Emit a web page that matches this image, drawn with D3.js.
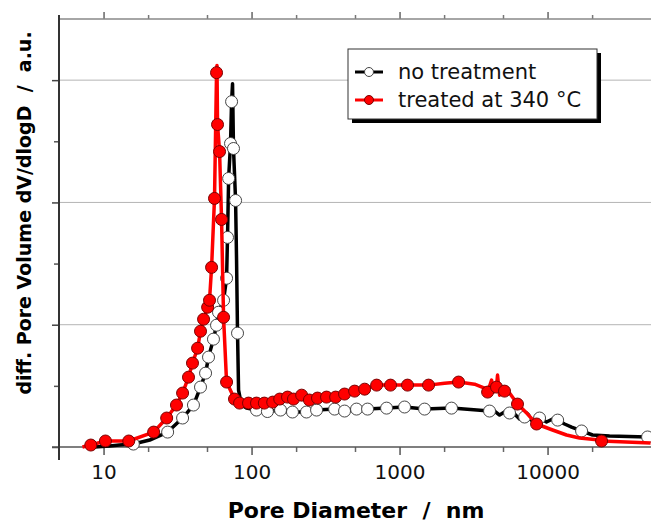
<!DOCTYPE html>
<html>
<head>
<meta charset="utf-8">
<script src="https://cdn.jsdelivr.net/npm/d3@7"></script>
<style>
  body { margin: 0; background: #fff; }
  svg { display: block; font-family: "DejaVu Sans", sans-serif; }
</style>
</head>
<body>
<svg id="chart"></svg>
<script>
// pore diameter (nm), dV/dlogD (a.u.)
// points drawn with a marker
const blackMarkers = [
  [15.9, 0.024], [27.1, 0.122], [34.2, 0.237], [40.5, 0.343], [45.2, 0.49], [48.9, 0.604],
  [51.2, 0.735], [55.3, 0.882], [58.0, 0.996], [59.8, 1.102], [64.7, 1.2], [67.8, 1.38],
  [68.8, 1.714], [70.0, 2.196], [72.1, 2.482], [73.3, 2.824], [75.5, 2.441], [78.0, 2.016],
  [80.4, 0.931], [108, 0.302], [128, 0.29], [157, 0.302], [189, 0.286], [235, 0.286],
  [275, 0.302], [364, 0.31], [425, 0.294], [512, 0.31], [608, 0.31], [817, 0.318],
  [1081, 0.327], [1476, 0.31], [2245, 0.318], [4055, 0.294], [5535, 0.278], [6995, 0.245],
  [8830, 0.237], [11700, 0.22], [16980, 0.131], [47400, 0.082]
];
// line-only points in between
const blackExtra = [
  [8.7, 0], [11.0, 0.008], [12.8, 0.016], [20.5, 0.057], [74.4, 2.971], [79.2, 1.527],
  [81.7, 0.465], [85.5, 0.343], [92.4, 0.318], [4385, 0.294], [4742, 0.261], [5117, 0.286],
  [5984, 0.269], [6471, 0.229], [7211, 0.253], [7925, 0.212], [9840, 0.204], [10810, 0.229],
  [13030, 0.188], [14530, 0.163], [20140, 0.098], [26240, 0.09], [49660, 0.082]
];
const redMarkers = [
  [8.2, 0.016], [10.3, 0.049], [14.8, 0.049], [21.8, 0.122], [26.7, 0.237], [31.1, 0.343],
  [34.2, 0.441], [37.5, 0.571], [39.9, 0.686], [43.2, 0.808], [45.2, 0.947], [47.4, 1.045],
  [50.5, 1.143], [52.0, 1.2], [53.7, 1.469], [56.2, 2.033], [58.0, 3.061], [58.9, 2.637],
  [60.8, 2.416], [62.7, 1.861], [64.7, 1.061], [67.8, 0.531], [76.7, 0.392], [83.0, 0.359],
  [95.4, 0.359], [108, 0.359], [122, 0.359], [139, 0.367], [155, 0.392], [175, 0.408],
  [192, 0.392], [218, 0.424], [246, 0.384], [279, 0.4], [321, 0.408], [370, 0.408],
  [425, 0.433], [497, 0.457], [581, 0.473], [700, 0.506], [869, 0.506], [1132, 0.506],
  [1570, 0.506], [2505, 0.531], [3936, 0.449], [4520, 0.49], [5120, 0.457], [6265, 0.351],
  [8430, 0.188], [23170, 0.049]
];
const redExtra = [
  [7.2, 0], [58.4, 3.12], [2014, 0.522], [3212, 0.514], [3750, 0.482], [4188, 0.547],
  [4315, 0.449], [4592, 0.588], [4742, 0.424], [5534, 0.441], [7328, 0.269], [10810, 0.139],
  [13430, 0.098], [16440, 0.073], [22440, 0.057], [49660, 0.033]
];

const xMajor = [10, 100, 1000, 10000];
const xMinor = [20, 50, 200, 500, 2000, 5000, 20000];
const yMajor = [0, 1, 2, 3];
const yMinor = [0.5, 1.5, 2.5];
const seriesNames = ["no treatment", "treated at 340 °C"];

const width = 651;
const height = 524;
const plot = {left: 59, right: 651, top: 19, bottom: 447};

const svg = d3.select("#chart")
    .attr("width", width)
    .attr("height", height);

const x = d3.scaleLog()
    .domain([5, 50000])
    .range([plot.left, plot.right]);
const y = d3.scaleLinear()
    .domain([0, 3.5])
    .range([plot.bottom, plot.top]);

// horizontal grid
svg.append("g")
    .selectAll("line")
    .data(yMajor.filter(d => d > 0))
    .enter()
    .append("line")
    .attr("x1", plot.left)
    .attr("x2", plot.right)
    .attr("y1", d => y(d))
    .attr("y2", d => y(d))
    .attr("stroke", "#b4b4b4")
    .attr("stroke-width", 1);

function styleAxis(g, color) {
  g.select(".domain").remove();
  g.selectAll("line").attr("stroke", color).attr("stroke-width", 1.5);
}

// bottom axis
svg.append("g")
    .attr("transform", "translate(0," + plot.bottom + ")")
    .call(d3.axisBottom(x).tickValues(xMinor).tickSize(5).tickFormat(""))
    .call(g => styleAxis(g, "#666"));
const bottom = svg.append("g")
    .attr("transform", "translate(0," + plot.bottom + ")")
    .call(d3.axisBottom(x).tickValues(xMajor).tickSize(8).tickFormat(d3.format("d")))
    .call(g => styleAxis(g, "#555"));
bottom.selectAll("text")
    .attr("y", 32)
    .attr("dy", null)
    .attr("fill", "#111")
    .style("font-size", "20px")
    .style("font-family", "DejaVu Sans");

// top axis
svg.append("g")
    .attr("transform", "translate(0," + plot.top + ")")
    .call(d3.axisTop(x).tickValues(xMinor).tickSize(4).tickFormat(""))
    .call(g => styleAxis(g, "#777"));
svg.append("g")
    .attr("transform", "translate(0," + plot.top + ")")
    .call(d3.axisTop(x).tickValues(xMajor).tickSize(7).tickFormat(""))
    .call(g => styleAxis(g, "#666"));

// left axis
svg.append("g")
    .attr("transform", "translate(" + plot.left + ",0)")
    .call(d3.axisLeft(y).tickValues(yMinor).tickSize(5).tickFormat(""))
    .call(g => styleAxis(g, "#555"));
svg.append("g")
    .attr("transform", "translate(" + plot.left + ",0)")
    .call(d3.axisLeft(y).tickValues(yMajor).tickSize(7).tickFormat(""))
    .call(g => styleAxis(g, "#444"));

// axis lines
svg.append("line")
    .attr("x1", plot.left - 7).attr("x2", plot.right)
    .attr("y1", plot.bottom).attr("y2", plot.bottom)
    .attr("stroke", "#555").attr("stroke-width", 1.5);
svg.append("line")
    .attr("x1", plot.left).attr("x2", plot.right)
    .attr("y1", plot.top).attr("y2", plot.top)
    .attr("stroke", "#888").attr("stroke-width", 1.5);
svg.append("line")
    .attr("x1", plot.left).attr("x2", plot.left)
    .attr("y1", plot.top - 4).attr("y2", plot.bottom + 13)
    .attr("stroke", "#333").attr("stroke-width", 2);

const line = d3.line()
    .x(d => x(d[0]))
    .y(d => y(d[1]));

const series = [
  {markers: blackMarkers, extra: blackExtra, color: "#000", fill: "#fff", edge: "#444"},
  {markers: redMarkers, extra: redExtra, color: "#ff0000", fill: "#ff0000", edge: "#7a0000"}
];

series.forEach(function(s) {
  const pts = s.markers.concat(s.extra).sort((a, b) => a[0] - b[0]);
  svg.append("path")
      .datum(pts)
      .attr("d", line)
      .attr("fill", "none")
      .attr("stroke", s.color)
      .attr("stroke-width", 3.5)
      .attr("stroke-linejoin", "round");
  svg.append("g")
      .selectAll("circle")
      .data(s.markers)
      .enter()
      .append("circle")
      .attr("cx", d => x(d[0]))
      .attr("cy", d => y(d[1]))
      .attr("r", 6)
      .attr("fill", s.fill)
      .attr("stroke", s.edge)
      .attr("stroke-width", 1);
});

// legend
const legend = svg.append("g").attr("transform", "translate(348,49)");
legend.append("rect")
    .attr("x", 4).attr("y", 4)
    .attr("width", 249).attr("height", 70)
    .attr("fill", "#000");
legend.append("rect")
    .attr("width", 249).attr("height", 70)
    .attr("fill", "#fff")
    .attr("stroke", "#333")
    .attr("stroke-width", 1);
series.forEach(function(s, i) {
  const ly = 23 + i * 28;
  legend.append("line")
      .attr("x1", 7).attr("x2", 35)
      .attr("y1", ly).attr("y2", ly)
      .attr("stroke", s.color)
      .attr("stroke-width", 3);
  legend.append("circle")
      .attr("cx", 21).attr("cy", ly)
      .attr("r", 4.5)
      .attr("fill", s.fill)
      .attr("stroke", s.edge)
      .attr("stroke-width", 1);
  legend.append("text")
      .attr("x", 50)
      .attr("y", ly + 7)
      .attr("fill", "#111")
      .style("font-size", "21px")
      .text(seriesNames[i]);
});

// axis titles
svg.append("text")
    .attr("x", 356)
    .attr("y", 518)
    .attr("text-anchor", "middle")
    .style("font-size", "22px")
    .style("font-weight", "bold")
    .style("white-space", "pre")
    .text("Pore Diameter  /  nm");
svg.append("text")
    .attr("transform", "translate(31,213) rotate(-90)")
    .attr("text-anchor", "middle")
    .style("font-size", "19px")
    .style("font-weight", "bold")
    .style("white-space", "pre")
    .text("diff. Pore Volume dV/dlogD  /  a.u.");
</script>
</body>
</html>
